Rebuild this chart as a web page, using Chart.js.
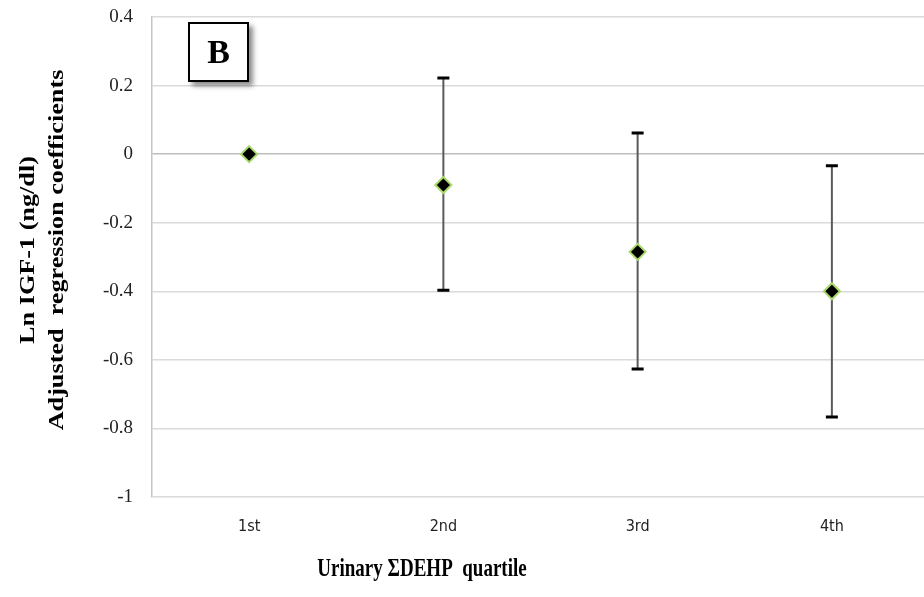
<!DOCTYPE html>
<html>
<head>
<meta charset="utf-8">
<script src="https://cdn.jsdelivr.net/npm/chart.js@4/dist/chart.umd.min.js"></script>
<style>
  html, body { margin: 0; padding: 0; background: #ffffff; overflow: hidden; }
  #wrap { position: relative; width: 939px; height: 597px; }
  #c { display: block; width: 939px; height: 597px; }
  #badge {
    position: absolute; left: 188px; top: 22px; width: 57px; height: 56px;
    border: 2px solid #000; background: #fff;
    box-shadow: 4px 4px 5px rgba(0,0,0,0.45);
    font: bold 34px "Liberation Serif", "Times New Roman", serif;
    display: flex; align-items: center; justify-content: center; color: #000;
  }
</style>
</head>
<body>
<div id="wrap">
  <canvas id="c" width="939" height="597"></canvas>
  <div id="badge">B</div>
</div>
<script>
const categories = ['1st', '2nd', '3rd', '4th'];
const coefficients = [0, -0.09, -0.285, -0.40];
const lowerCI = [null, -0.397, -0.627, -0.767];
const upperCI = [null, 0.222, 0.062, -0.034];
const yMin = -1, yMax = 0.4, yStep = 0.2;
const xTitle = 'Urinary \u03A3DEHP  quartile';
const yTitleLines = ['Ln IGF-1 (ng/dl)', 'Adjusted  regression coefficients'];

const errorBars = {
  id: 'errorBars',
  beforeDatasetsDraw(chart) {
    const ctx = chart.ctx, xs = chart.scales.x, ys = chart.scales.y;
    ctx.save();
    categories.forEach((c, i) => {
      if (lowerCI[i] == null || upperCI[i] == null) return;
      const x = xs.getPixelForValue(i);
      const yl = ys.getPixelForValue(lowerCI[i]);
      const yu = ys.getPixelForValue(upperCI[i]);
      ctx.strokeStyle = '#5a5a5a'; ctx.lineWidth = 2;
      ctx.beginPath(); ctx.moveTo(x, yu); ctx.lineTo(x, yl); ctx.stroke();
      ctx.strokeStyle = '#000'; ctx.lineWidth = 3;
      ctx.beginPath();
      ctx.moveTo(x - 6, yu); ctx.lineTo(x + 6, yu);
      ctx.moveTo(x - 6, yl); ctx.lineTo(x + 6, yl);
      ctx.stroke();
    });
    ctx.restore();
  }
};

const titles = {
  id: 'titles',
  afterDraw(chart) {
    const ctx = chart.ctx;
    ctx.save();
    ctx.fillStyle = '#000';
    ctx.font = 'bold 25px "Liberation Serif", "Times New Roman", serif';
    ctx.textAlign = 'center';
    ctx.textBaseline = 'alphabetic';
    ctx.save();
    ctx.translate(422, 576);
    ctx.scale(0.76, 1);
    ctx.fillText(xTitle, 0, 0);
    ctx.restore();
    ctx.font = 'bold 20px "Liberation Serif", "Times New Roman", serif';
    const bases = [34, 63];
    yTitleLines.forEach((t, i) => {
      ctx.save();
      ctx.translate(bases[i], 250);
      ctx.rotate(-Math.PI / 2);
      ctx.scale(1.31, 1);
      ctx.fillText(t, 0, 0);
      ctx.restore();
    });
    ctx.restore();
  }
};

new Chart(document.getElementById('c'), {
  type: 'line',
  data: {
    labels: categories,
    datasets: [{
      data: coefficients,
      showLine: false,
      pointStyle: 'rectRot',
      pointRadius: 8,
      pointHoverRadius: 8,
      pointBackgroundColor: '#000',
      pointBorderColor: '#a8d86a',
      pointBorderWidth: 2
    }]
  },
  options: {
    responsive: false,
    maintainAspectRatio: false,
    animation: false,
    events: [],
    layout: { padding: { top: 17, left: 0, right: 2, bottom: 0 } },
    plugins: { legend: { display: false }, tooltip: { enabled: false } },
    scales: {
      x: {
        type: 'category',
        offset: true,
        grid: { display: false, drawTicks: false },
        border: { display: false },
        ticks: {
          padding: 20,
          color: '#222',
          font: { family: '"Liberation Sans Narrow", "DejaVu Sans Condensed", sans-serif', size: 16 }
        },
        afterFit(s) { s.height = 100; s.paddingLeft = 0; s.paddingRight = 0; s.paddingTop = 0; s.paddingBottom = 0; }
      },
      y: {
        min: yMin, max: yMax,
        grid: {
          drawTicks: false,
          lineWidth: 1.5,
          color: (c) => (c.tick && Math.abs(c.tick.value) < 1e-9) ? '#bdbdbd' : '#dadada'
        },
        border: { display: true, color: '#c4c4c4', width: 1.5 },
        ticks: {
          stepSize: yStep,
          padding: 19,
          color: '#222',
          font: { family: '"Liberation Serif", "Times New Roman", serif', size: 19 },
          callback: (v) => String(Number(Number(v).toFixed(1)))
        },
        afterFit(s) { s.width = 152; s.paddingTop = 0; s.paddingBottom = 0; s.paddingLeft = 0; s.paddingRight = 0; }
      }
    }
  },
  plugins: [errorBars, titles]
});
</script>
</body>
</html>
